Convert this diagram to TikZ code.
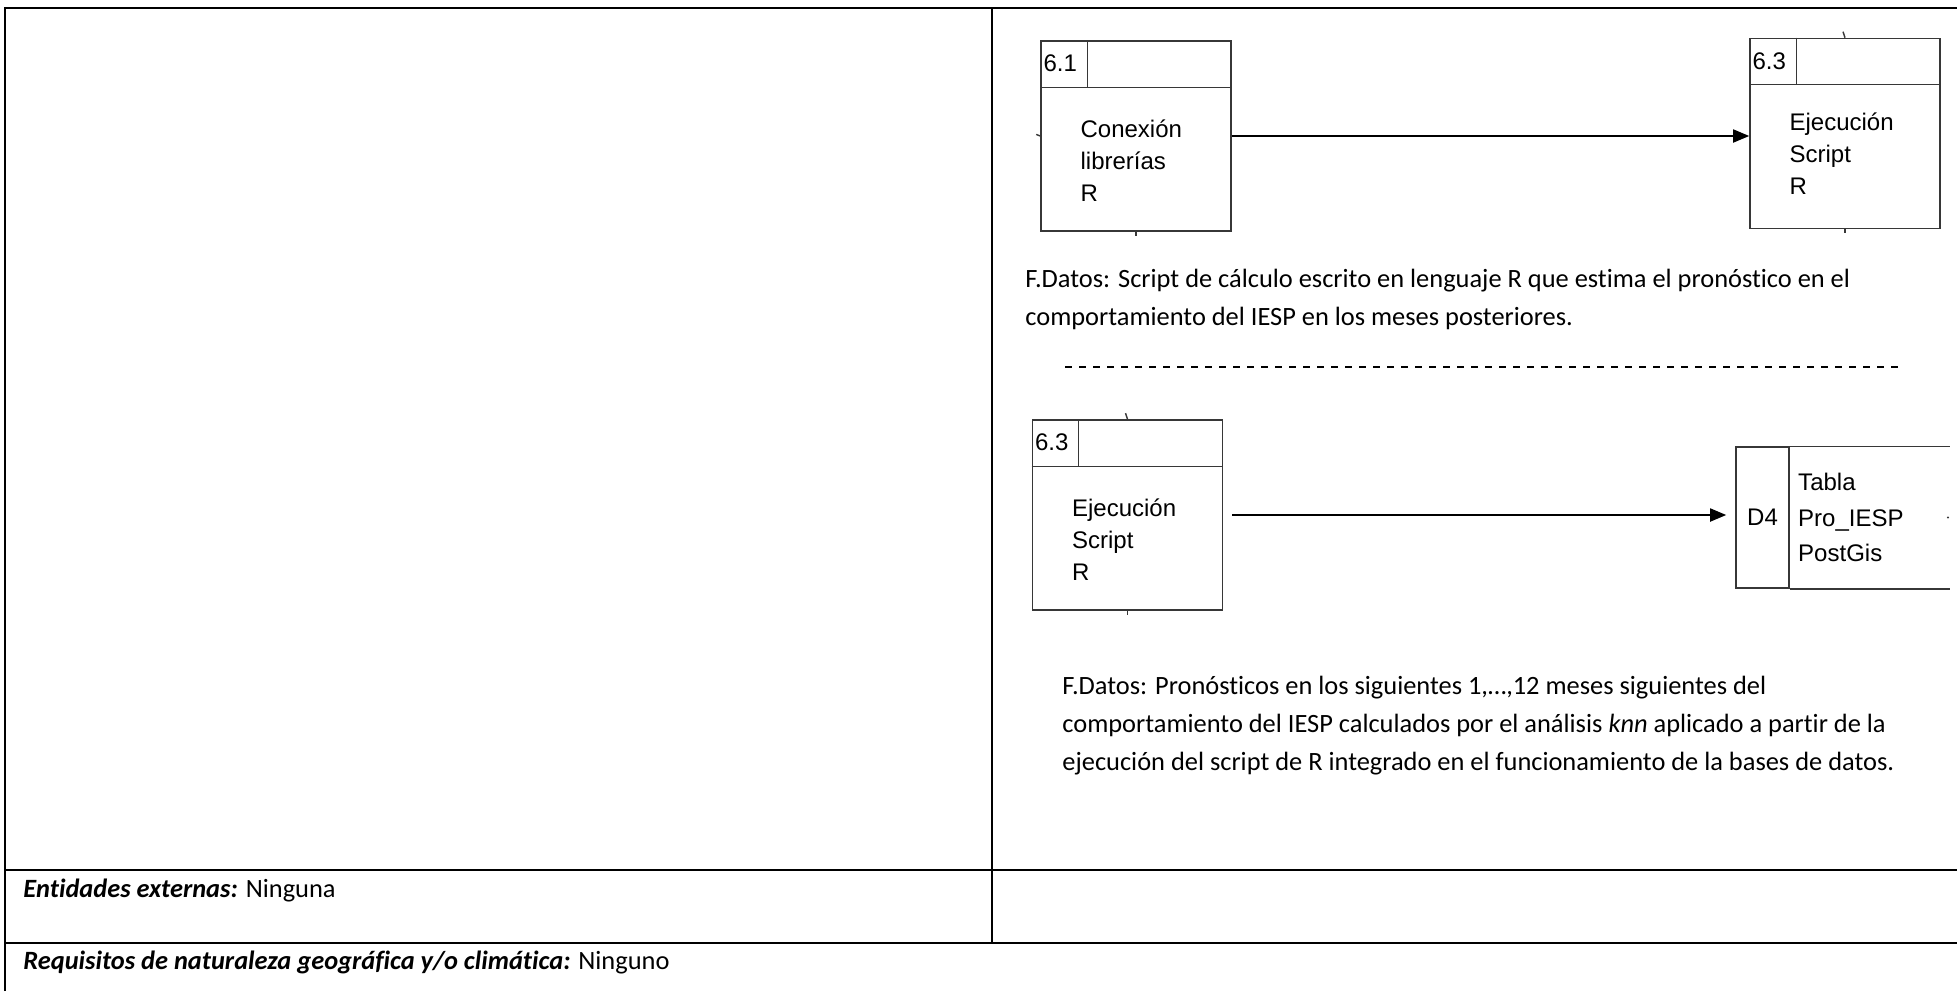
\documentclass[tikz,border=0pt]{standalone}
\usepackage{fontspec}
\setmainfont{Carlito}[Ligatures=NoCommon]
\newfontfamily\dfdfont{Liberation Sans}
\usetikzlibrary{arrows.meta,positioning}
\definecolor{dfdgray}{RGB}{55,55,55}
\tikzstyle{tbl}=[line width=1.3pt,black]
\tikzstyle{proc}=[draw=dfdgray,line width=0.8pt,minimum size=95pt,inner sep=0]
\tikzstyle{store}=[draw=dfdgray,line width=0.8pt,minimum width=26.5pt,minimum height=70.5pt,
                inner sep=0,font=\dfdfont\fontsize{12}{16}\selectfont]
\tikzstyle{ptxt}=[align=left,inner sep=0,anchor=west,font=\dfdfont\fontsize{12}{16}\selectfont]
\tikzstyle{flow}=[-{Triangle[length=8pt,width=6.5pt]},line width=0.9pt]
\tikzstyle{txt}=[align=left,inner sep=0,anchor=west,font=\fontsize{13.2}{19}\selectfont]
\tikzstyle{stub}=[dfdgray,line width=0.7pt]

\begin{document}
\begin{tikzpicture}[x=0.5pt,y=-0.5pt]
  \useasboundingbox (0,0) rectangle (1957,991);
  % table frame
  \draw[tbl] (5,991) -- (5,8) -- (1957,8);
  \draw[tbl] (992,8) -- (992,943);
  \draw[tbl] (5,870) -- (1957,870);
  \draw[tbl] (5,943) -- (1957,943);

  % processes
  \node[proc] (p61) at (1136,136) {};
  \node[proc] (p63a) at (1845,133.5) {};
  \node[proc] (p63b) at (1127.5,515) {};
  \foreach \n/\num in {p61/6.1,p63a/6.3,p63b/6.3}{
    \draw[stub] ([yshift=-23.5pt]\n.north west) -- ([yshift=-23.5pt]\n.north east);
    \draw[stub] ([xshift=23.5pt]\n.north west) -- ([xshift=23.5pt,yshift=-23.5pt]\n.north west);
    \node[ptxt] (\n-num) at ([xshift=1.5pt,yshift=-11.75pt]\n.north west) {\num};
  }
  \node[ptxt] (p61-txt) at ([xshift=20pt,yshift=-12.5pt]p61.west) {Conexión\\librerías\\R};
  \node[ptxt] (p63a-txt) at ([xshift=20pt,yshift=-10pt]p63a.west) {Ejecución\\Script\\R};
  \node[ptxt] (p63b-txt) at ([xshift=20pt,yshift=-12.5pt]p63b.west) {Ejecución\\Script\\R};

  % data store
  \node[store] (d4) at (1762.5,517.5) {D4};
  \coordinate (d4end) at (1950,517.5);
  \draw[stub] (d4.north east) -- (d4.north east -| d4end);
  \draw[stub] (d4.south east) -- (d4.south east -| d4end);
  \node[ptxt,font=\dfdfont\fontsize{12}{17.75}\selectfont] (d4-txt) at ([xshift=4pt]d4.east)
    {Tabla\\Pro\_IESP\\PostGis};

  % connection stubs
  \draw[stub] (p61.west) -- ++(-2pt,0.8pt);
  \draw[stub] (p61.south) -- ++(0,-2pt);
  \draw[stub] (p63a.north) -- ++(-1pt,3pt);
  \draw[stub] (p63a.south) -- ++(0,-2pt);
  \draw[stub] (p63b.north) -- ++(-1pt,3pt);
  \draw[stub] (p63b.south) -- ++(0,-2pt);
  \fill[dfdgray] ([xshift=-1pt]d4end) circle (0.6pt);

  % flows
  \draw[flow] (p61.east) -- (p61.east -| p63a.west);
  \draw[flow,shorten <=4.5pt,shorten >=4.5pt] (p63b.east) -- (p63b.east -| d4.west);

  % flow descriptions
  \node[txt] (fd1) at (1025,299) {F.Datos: Script de cálculo escrito en lenguaje R que estima el pronóstico en el\\
    comportamiento del IESP en los meses posteriores.};
  \draw[line width=1pt,dash pattern=on 3.5pt off 3.5pt] (1065,367) -- (1898,367);
  \node[txt] (fd2) at (1062,726) {F.Datos: Pronósticos en los siguientes 1,…,12 meses siguientes del\\
    comportamiento del IESP calculados por el análisis \textit{knn} aplicado a partir de la\\
    ejecución del script de R integrado en el funcionamiento de la bases de datos.};

  % lower rows
  \node[txt] (ext) at (23,890) {\textbf{\textit{Entidades externas:}} Ninguna};
  \node[txt] (req) at (23,962) {\textbf{\textit{Requisitos de naturaleza geográfica y/o climática:}} Ninguno};
\end{tikzpicture}
\end{document}
